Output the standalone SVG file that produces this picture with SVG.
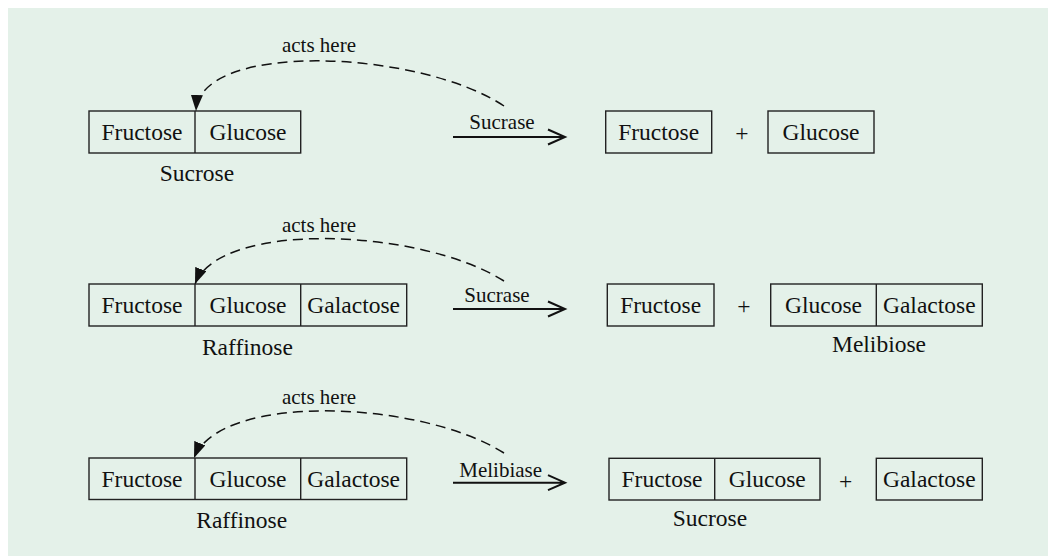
<svg xmlns="http://www.w3.org/2000/svg" width="1048" height="556" viewBox="0 0 1048 556">
<style>
.box{fill:none;stroke:#222;stroke-width:1.4}
.t{font-family:'Times New Roman','Liberation Serif',serif;font-size:23.5px;fill:#111;text-anchor:middle}
.s{font-family:'Times New Roman','Liberation Serif',serif;font-size:21px;fill:#111;text-anchor:middle}
.dash{fill:none;stroke:#111;stroke-width:1.5;stroke-dasharray:10 6}
.rx{fill:none;stroke:#111;stroke-width:2}
</style>
<defs>
<marker id="tri" viewBox="0 0 16 12" refX="16" refY="6" markerWidth="16" markerHeight="12" markerUnits="userSpaceOnUse" orient="auto">
<path d="M0,0 L16,6 L0,12 Z" fill="#111"/>
</marker>
</defs>
<rect x="8" y="8" width="1040" height="548" fill="#e4f1e9"/>

<g id="row1-sucrose">
<rect class="box" x="89" y="111" width="211.7" height="42"/>
<line class="box" x1="195" y1="111" x2="195" y2="153"/>
<text class="t" x="142" y="139.5">Fructose</text>
<text class="t" x="248" y="139.5">Glucose</text>
<text class="t" x="197" y="181">Sucrose</text>
</g>
<g id="row1-fructose">
<rect class="box" x="605.7" y="111" width="106" height="42"/>
<text class="t" x="658.7" y="139.5">Fructose</text>
</g>
<text class="t" x="742" y="141">+</text>
<g id="row1-glucose">
<rect class="box" x="768" y="111" width="106" height="42"/>
<text class="t" x="821" y="139.5">Glucose</text>
</g>

<g id="row2-raffinose">
<rect class="box" x="89" y="284" width="317.7" height="42"/>
<line class="box" x1="195" y1="284" x2="195" y2="326"/>
<line class="box" x1="300.7" y1="284" x2="300.7" y2="326"/>
<text class="t" x="142" y="312.7">Fructose</text>
<text class="t" x="248" y="312.7">Glucose</text>
<text class="t" x="353.7" y="312.7">Galactose</text>
<text class="t" x="247.4" y="354.5">Raffinose</text>
</g>
<g id="row2-fructose">
<rect class="box" x="607.3" y="284" width="106.7" height="42"/>
<text class="t" x="660.7" y="312.7">Fructose</text>
</g>
<text class="t" x="744" y="314">+</text>
<g id="row2-melibiose">
<rect class="box" x="770.7" y="284" width="211.6" height="42"/>
<line class="box" x1="876.3" y1="284" x2="876.3" y2="326"/>
<text class="t" x="823.5" y="312.7">Glucose</text>
<text class="t" x="929.3" y="312.7">Galactose</text>
<text class="t" x="879" y="352">Melibiose</text>
</g>

<g id="row3-raffinose">
<rect class="box" x="89" y="458" width="317.7" height="41.5"/>
<line class="box" x1="195" y1="458" x2="195" y2="499.5"/>
<line class="box" x1="300.7" y1="458" x2="300.7" y2="499.5"/>
<text class="t" x="142" y="486.5">Fructose</text>
<text class="t" x="248" y="486.5">Glucose</text>
<text class="t" x="353.7" y="486.5">Galactose</text>
<text class="t" x="241.7" y="527.7">Raffinose</text>
</g>
<g id="row3-sucrose">
<rect class="box" x="609" y="458.3" width="211" height="41.7"/>
<line class="box" x1="714.7" y1="458.3" x2="714.7" y2="500"/>
<text class="t" x="662" y="486.8">Fructose</text>
<text class="t" x="767.3" y="486.8">Glucose</text>
<text class="t" x="710" y="526">Sucrose</text>
</g>
<text class="t" x="845.7" y="488.5">+</text>
<g id="row3-galactose">
<rect class="box" x="876.3" y="458.3" width="106" height="41.7"/>
<text class="t" x="929.3" y="486.8">Galactose</text>
</g>

<g id="connectors">
<path class="dash" d="M504,106 C420,50 200,40 196,111" marker-end="url(#tri)"/>
<text class="s" x="319" y="52">acts here</text>
<path class="rx" d="M453,137 H565 M548,129.5 L565,137 L548,144.5"/>
<text class="s" x="502" y="129">Sucrase</text>

<path class="dash" d="M504,281 C420,228 220,220 195,284" marker-end="url(#tri)"/>
<text class="s" x="319" y="231.7">acts here</text>
<path class="rx" d="M453,309 H565 M548,301.5 L565,309 L548,316.5"/>
<text class="s" x="497" y="301.7">Sucrase</text>

<path class="dash" d="M504,453 C420,400 220,392 194,458" marker-end="url(#tri)"/>
<text class="s" x="319" y="404">acts here</text>
<path class="rx" d="M453,482.7 H565 M548,475.2 L565,482.7 L548,490.2"/>
<text class="s" x="500.7" y="476.7">Melibiase</text>
</g>
</svg>
